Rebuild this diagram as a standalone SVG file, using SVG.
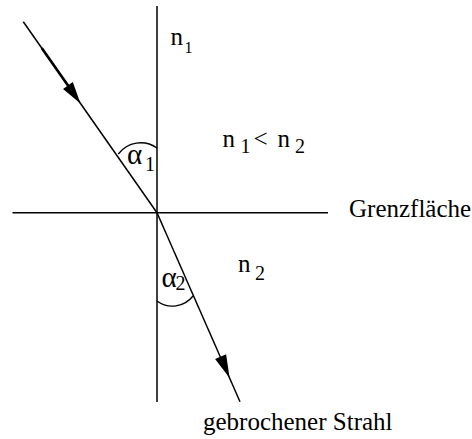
<svg xmlns="http://www.w3.org/2000/svg" width="472" height="439" viewBox="0 0 472 439">
<style>
.ln{stroke:#000;stroke-width:1.5;fill:none}
.arc{stroke:#000;stroke-width:1.4;fill:none}
.t{font-family:"Liberation Serif","Times New Roman",serif;fill:#000;font-size:25px}
.a{font-size:29px}
.s{font-size:20px}
.ss{font-size:16px}
</style>
<rect width="472" height="439" fill="#fff"/>
<g id="axes">
<line class="ln" x1="157" y1="6" x2="157" y2="402"/>
<line class="ln" x1="12.5" y1="212.7" x2="328" y2="212.7"/>
</g>
<g id="connectors">
<g id="incident">
<line class="ln" x1="23.3" y1="21.7" x2="157" y2="212.7"/>
<line x1="41.7" y1="48" x2="68" y2="85.6" stroke="#000" stroke-width="2.6"/>
<polygon points="80.5,103.5 72.8,82.1 63,88.9" fill="#000"/>
</g>
<g id="refracted">
<line class="ln" x1="157" y1="212.7" x2="240" y2="401.7" stroke-width="1.7"/>
<polygon points="229.6,378 226.1,354.2 215.1,359" fill="#000"/>
</g>
</g>
<g id="angle1">
<path class="arc" d="M118.3,154 A28,28 0 0 1 157,148"/>
<text class="t a" x="127" y="164">α</text>
<text class="t s" x="145" y="170.5">1</text>
</g>
<g id="angle2">
<path class="arc" d="M157,301 A26,26 0 0 0 193,296"/>
<text class="t a" x="161.5" y="287">α</text>
<text class="t s" x="175.5" y="289.5">2</text>
</g>
<g id="label-n1">
<text class="t" x="170.5" y="45">n</text>
<text class="t ss" x="184.5" y="52.7">1</text>
</g>
<g id="label-relation">
<text class="t" x="222.5" y="147">n</text>
<text class="t s" x="240.5" y="153">1</text>
<text class="t" x="253.5" y="147">&lt;</text>
<text class="t" x="277.5" y="147">n</text>
<text class="t s" x="295" y="153">2</text>
</g>
<g id="label-n2">
<text class="t" x="238" y="272">n</text>
<text class="t s" x="255" y="280">2</text>
</g>
<g id="label-grenz">
<text class="t" x="349" y="217">Grenzfläche</text>
</g>
<g id="label-strahl">
<text class="t" x="203" y="430">gebrochener Strahl</text>
</g>
</svg>
